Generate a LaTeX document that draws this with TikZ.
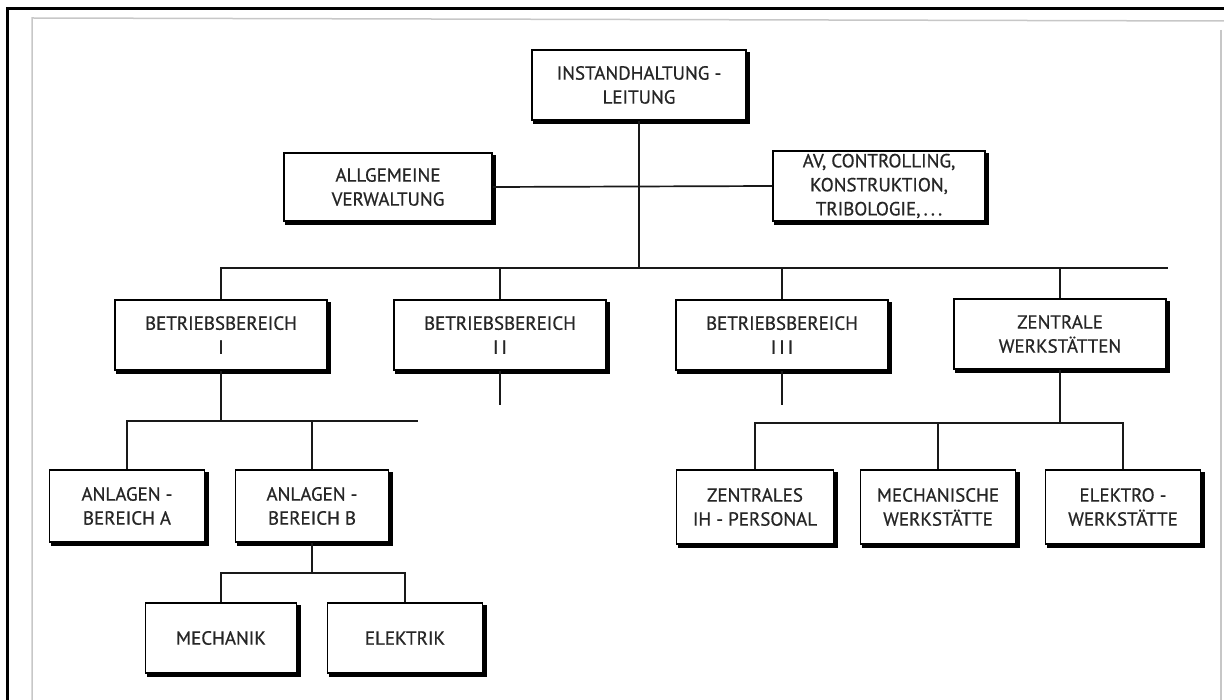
\documentclass[tikz,border=0pt]{standalone}
\usepackage{fontspec}
\setmainfont{PT Sans}
\newfontfamily\boxfont{PT Sans}[FakeBold=0.7]
\begin{document}
\begin{tikzpicture}[x=1pt,y=-1pt,
  orgbox/.style={draw=black, line width=1.7pt, fill=white, inner sep=0pt,
    minimum height=70pt, align=center, text=black!85,
    font=\boxfont\fontsize{19}{24}\selectfont},
  wide/.style={orgbox, minimum width=212pt},
  narrow/.style={orgbox, minimum width=155pt},
  link/.style={line width=1.7pt, draw=black!90},
  shade strip/.style={fill=black},
  frame/.style={line width=3pt, draw=black},
  inner frame/.style={line width=1.5pt, draw=black!22}]
\useasboundingbox (0,0) rectangle (1224,700);
% page frame
\draw[frame] (7,700) -- (7,9) -- (1224,9);
\draw[inner frame] (32,700) -- (32,18) -- (1224,21);
\draw[inner frame] (1221,30) -- (1221,700);

% boxes
\node[wide, minimum width=214pt] (top) at (639,85) {INSTANDHALTUNG -\\LEITUNG};
\node[wide, minimum width=208pt, minimum height=68pt] (allg) at (388,187) {ALLGEMEINE\\VERWALTUNG};
\node[wide] (av) at (879,186) {AV, CONTROLLING,\\KONSTRUKTION,\\TRIBOLOGIE,\,.\,.\,.};

\node[wide] (b1) at (221,335) {BETRIEBSBEREICH\\I};
\node[wide] (b2) at (500,335) {BETRIEBSBEREICH\\I\kern3pt I};
\node[wide] (b3) at (782,335) {BETRIEBSBEREICH\\I\kern3pt I\kern3pt I};
\node[wide] (zw) at (1060,334) {ZENTRALE\\WERKSTÄTTEN};

\node[narrow, minimum height=72pt] (aA) at (127,506) {ANLAGEN -\\BEREICH A};
\node[narrow, minimum width=153pt, minimum height=72pt] (aB) at (312,506) {ANLAGEN -\\BEREICH B};
\node[narrow, minimum width=151pt] (mech) at (221,638) {MECHANIK};
\node[narrow] (elek) at (405,638) {ELEKTRIK};

\node[narrow, minimum width=157pt, minimum height=74pt] (zih) at (755,507) {ZENTRALES\\IH - PERSONAL};
\node[narrow, minimum height=74pt] (mw) at (938,507) {MECHANISCHE\\WERKSTÄTTE};
\node[narrow, minimum height=74pt] (ew) at (1123,507) {ELEKTRO -\\WERKSTÄTTE};

% heavy shading along the right and bottom edge of every box
\foreach \n in {top,allg,av,b1,b2,b3,zw,aA,aB,mech,elek,zih,mw,ew} {
  \fill[shade strip] ([xshift=2pt]\n.south west) rectangle ([xshift=3.5pt,yshift=-3.5pt]\n.south east);
  \fill[shade strip] ([yshift=-3pt]\n.north east) rectangle ([xshift=3.5pt,yshift=-3.5pt]\n.south east);
}

% bus lines
\coordinate (mainbus) at (1168,268);
\coordinate (leftbus) at (418,421);
\coordinate (lowbus) at (0,573);
\coordinate (rightbus) at (0,423);
\coordinate (b2end) at (b2.south |- 0,405);
\coordinate (b3end) at (b3.south |- 0,405);

% staff level
\draw[link] (top.south) -- (top.south |- mainbus);
\draw[link] (allg.east) -- (av.west);

% operating divisions
\draw[link] (b1.north) |- (mainbus);
\draw[link] (b2.north) -- (b2.north |- mainbus);
\draw[link] (b3.north) -- (b3.north |- mainbus);
\draw[link] (zw.north) -- (zw.north |- mainbus);
\draw[link] (b2.south) -- (b2end);
\draw[link] (b3.south) -- (b3end);

% plant areas
\draw[link] (b1.south) -- (b1.south |- leftbus);
\draw[link] (aA.north) |- (leftbus);
\draw[link] (aB.north) -- (aB.north |- leftbus);
\draw[link] (aB.south) -- (aB.south |- lowbus);
\draw[link] (mech.north) -- (mech.north |- lowbus) -- (elek.north |- lowbus) -- (elek.north);

% central workshops
\draw[link] (zw.south) -- (zw.south |- rightbus);
\draw[link] (zih.north) -- (zih.north |- rightbus) -- (ew.north |- rightbus) -- (ew.north);
\draw[link] (mw.north) -- (mw.north |- rightbus);
\end{tikzpicture}
\end{document}
